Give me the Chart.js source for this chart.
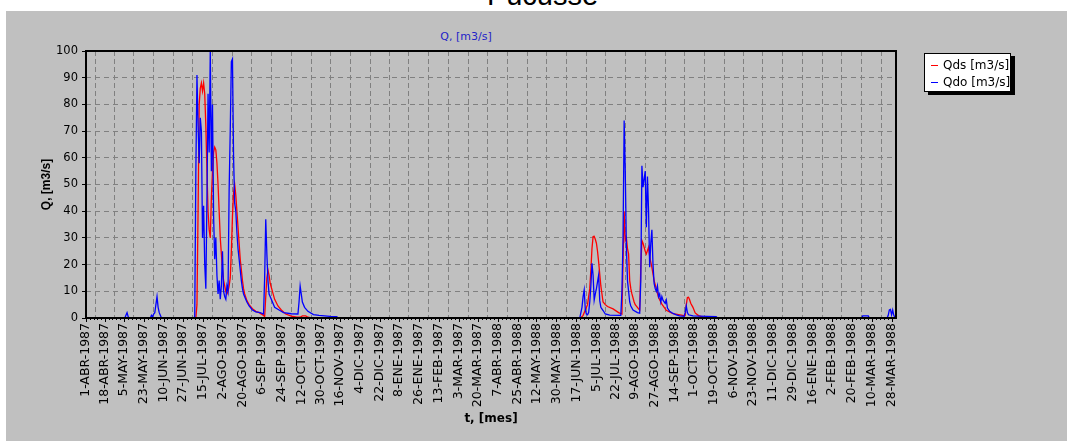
<!DOCTYPE html>
<html>
<head>
<meta charset="utf-8">
<title>Pucusse</title>
<script src="https://cdn.jsdelivr.net/npm/chart.js@4.4.1/dist/chart.umd.min.js"></script>
<style>
  html, body { margin: 0; padding: 0; background: #fff; }
  #wrap { position: relative; width: 1067px; height: 441px; overflow: hidden; }
  #panel { position: absolute; left: 6px; top: 11px; right: 0; bottom: 0; background: #c0c0c0; }
  #header { position: absolute; left: 0; top: -19px; width: 1085px; text-align: center;
            font: 29px/1 "Liberation Sans", Arial, sans-serif; color: #000; }
  #plotTitle { position: absolute; left: 366px; top: 30px; width: 200px; text-align: center;
               font: 11px/13px "DejaVu Sans", sans-serif; color: #2323c8; }
  #chart { position: absolute; left: 0; top: 0; }
  #legend { position: absolute; left: 924px; top: 53px; width: 87px; height: 39px; box-sizing: border-box;
            background: #fff; border: 1px solid #000; box-shadow: 4px 3px 0 #000; padding-top: 3px;
            font: 12px/17px "DejaVu Sans", sans-serif; color: #000; }
  #legend .row { position: relative; padding-left: 18px; white-space: nowrap; }
  #legend .mark { position: absolute; left: 6px; top: 8px; width: 7px; height: 1px; }
</style>
</head>
<body>
<div id="wrap">
  <div id="panel"></div>
  <div id="header">Pucusse</div>
  <div id="plotTitle">Q, [m3/s]</div>
  <canvas id="chart" width="1067" height="441"></canvas>
  <div id="legend"></div>
</div>
<script>
// axis labels (day offsets counted from 1-ABR)
const tickLabels = [
  "1-ABR-1987", "18-ABR-1987", "5-MAY-1987", "23-MAY-1987", "10-JUN-1987", "27-JUN-1987",
  "15-JUL-1987", "2-AGO-1987", "20-AGO-1987", "6-SEP-1987", "24-SEP-1987", "12-OCT-1987",
  "30-OCT-1987", "16-NOV-1987", "4-DIC-1987", "22-DIC-1987", "8-ENE-1987", "26-ENE-1987",
  "13-FEB-1987", "3-MAR-1987", "20-MAR-1987", "7-ABR-1988", "25-ABR-1988", "12-MAY-1988",
  "30-MAY-1988", "17-JUN-1988", "5-JUL-1988", "22-JUL-1988", "9-AGO-1988", "27-AGO-1988",
  "14-SEP-1988", "1-OCT-1988", "19-OCT-1988", "6-NOV-1988", "23-NOV-1988", "11-DIC-1988",
  "29-DIC-1988", "16-ENE-1988", "2-FEB-1988", "20-FEB-1988", "10-MAR-1988", "28-MAR-1988"
];
const tickDays = [
  0, 17, 34, 52, 70, 87, 105, 123, 141, 158, 176, 194, 212, 229, 247, 265, 282, 300, 318, 336, 353,
  371, 389, 406, 424, 442, 460, 477, 495, 513, 531, 548, 566, 584, 601, 619, 637, 655, 672, 690, 708, 726
];

const seriesNames = ["Qds [m3/s]", "Qdo [m3/s]"];
const seriesColors = ["#ff0000", "#0000ff"];

// Qds - simulated discharge
const qdsDays = [
  0, 99, 100, 101, 102, 103, 104, 105, 106, 107, 108, 109, 110, 111, 112, 113, 114, 115, 116, 117,
  118, 119, 120, 121, 122, 123, 124, 125, 126, 127, 128, 129, 130, 131, 132, 133, 134, 135, 136, 137,
  138, 139, 140, 141, 142, 143, 145, 147, 150, 153, 156, 160, 161, 162, 163, 164, 165, 166, 168, 170,
  173, 176, 180, 185, 190, 193, 195, 198, 200, 203,
  446, 448, 450, 452, 454, 455, 456, 457, 458, 459, 460, 461, 462, 463, 464, 465, 466, 468, 470, 475,
  480, 483, 484, 485, 486, 487, 488, 489, 490, 491, 492, 494, 495, 498, 499, 500, 501, 502, 504, 505,
  507, 508, 510, 512, 514, 516, 519, 523, 529, 539, 540, 541, 542, 543, 544, 545, 547, 549, 552, 556,
  560, 730
];
const qdsVals = [
  0, 0, 5, 40, 80, 86, 88, 85, 88, 84, 72, 55, 40, 33, 30, 45, 55, 62, 64, 63,
  58, 50, 40, 30, 24, 18, 14, 12, 10, 9, 10, 12, 15, 25, 38, 47, 50, 46, 40, 34,
  28, 22, 18, 14, 11, 9, 6.5, 5, 3.5, 2.5, 2, 1, 0.5, 8, 15, 18, 16, 13, 10, 7,
  4.5, 3, 1.5, 0.7, 0.3, 0.3, 0.8, 0.8, 0.3, 0,
  0, 1, 3, 5, 11, 18, 26, 30.5, 30.6, 29.5, 28, 25, 21, 16.5, 12, 9, 6, 5, 4.3, 3.4,
  2, 1.5, 21, 40, 29, 30, 26, 24, 14, 11, 9, 6, 5, 3.4, 3, 19, 29, 28, 25, 24,
  26.5, 23, 19, 14, 11, 7.7, 5.2, 2.9, 1.6, 0.9, 0.9, 5, 7.7, 7.8, 6.8, 5.5, 4, 1.9, 0.9, 0.3,
  0, 0
];

// Qdo - observed discharge
const qdoDays = [
  0, 35, 36, 37, 38, 39, 58, 59, 60, 61, 62, 63, 64, 65, 66, 67, 68,
  97, 98, 99, 100, 101, 102, 103, 104, 105, 106, 107, 108, 109, 110, 111, 112, 113, 114, 115, 116,
  117, 118, 119, 120, 121, 122, 123, 124, 125, 126, 127, 128, 129, 130, 131, 132, 133, 134, 135, 136,
  137, 138, 139, 140, 141, 142, 143, 145, 147, 150, 153, 157, 160, 161, 162, 163, 164, 165, 167, 170,
  174, 178, 185, 191, 192, 193, 194, 195, 197, 200, 205, 210, 220, 226, 227,
  445, 446, 447, 448, 449, 450, 451, 452, 453, 454, 455, 456, 457, 458, 459, 460, 461, 462, 463, 464,
  466, 468, 472, 481, 482, 483, 484, 485, 486, 487, 488, 489, 490, 491, 493, 497, 499, 500, 501, 502,
  503, 504, 505, 506, 507, 508, 509, 510, 511, 512, 513, 514, 515, 516, 517, 518, 519, 520, 522, 523,
  524, 526, 529, 532, 535, 539, 540, 541, 542, 543, 547, 553, 560, 568, 569,
  699, 700, 705, 706, 722, 723, 724, 725, 726, 727, 728, 729, 730
];
const qdoVals = [
  0, 0, 1, 2, 0.5, 0, 0, 1, 0.5, 1.5, 2, 5, 8, 4, 2, 1, 0,
  0, 0.5, 55, 91, 72, 58, 75, 70, 30, 42, 20, 11, 45, 84, 62, 100, 55, 80, 38, 22,
  30, 16, 9, 14, 7, 12, 25, 10, 8, 7, 12, 10, 48, 70, 96, 97, 60, 43, 40, 32,
  26, 22, 18, 14, 11, 9, 8, 6, 4.5, 3, 2.3, 2, 1.5, 15, 37, 24, 14, 9, 7, 4,
  3, 2, 1.6, 1.5, 6, 12, 9, 6, 4, 2.5, 1.3, 1, 0.6, 0.5, 0,
  0, 2, 4, 8, 10.5, 3, 1.5, 1.2, 2, 6, 12, 20.5, 16, 6.7, 9, 11, 13.5, 16, 6.5, 4,
  2.8, 1.5, 1.1, 1, 1, 10, 30, 74, 55, 27, 14, 10, 6, 4.5, 3, 2, 1.8, 14, 57, 49,
  52, 55, 34, 53, 40, 19, 28, 33, 20, 13, 11, 10, 12, 8, 9, 6, 8, 6.7, 5.5, 6.7,
  3.7, 2.5, 1.7, 1.2, 0.8, 0.6, 2, 4.5, 2, 1.2, 0.8, 0.7, 0.6, 0.5, 0,
  0, 0.8, 0.8, 0, 0, 1, 3, 3.2, 1.2, 3, 1, 0.3, 0
];

const toPoints = (days, vals) => days.map((d, i) => ({ x: d, y: vals[i] }));

// frame round the plot plus small ticks under the time axis
const framePlugin = {
  id: 'frame',
  afterDatasetsDraw(chart) {
    const { ctx, chartArea: a, scales: { x } } = chart;
    ctx.save();
    ctx.strokeStyle = '#000';
    ctx.lineWidth = 1;
    ctx.beginPath();
    tickDays.forEach((d, i) => {
      const px = Math.round(x.getPixelForValue(d)) + 0.5;
      ctx.moveTo(px, a.bottom);
      ctx.lineTo(px, a.bottom + 4);
      if (i < tickDays.length - 1) {
        const next = tickDays[i + 1];
        for (let k = 1; k < 5; k++) {
          const m = Math.round(x.getPixelForValue(d + (next - d) * k / 5)) + 0.5;
          ctx.moveTo(m, a.bottom);
          ctx.lineTo(m, a.bottom + 2);
        }
      }
    });
    ctx.stroke();
    ctx.lineWidth = 2;
    ctx.strokeRect(a.left, a.top, a.right - a.left, a.bottom - a.top);
    ctx.restore();
  }
};

new Chart(document.getElementById('chart'), {
  type: 'line',
  data: {
    datasets: [
      {
        label: seriesNames[0],
        data: toPoints(qdsDays, qdsVals),
        borderColor: seriesColors[0],
        borderWidth: 1.3,
        pointRadius: 0,
        tension: 0,
        order: 2
      },
      {
        label: seriesNames[1],
        data: toPoints(qdoDays, qdoVals),
        borderColor: seriesColors[1],
        borderWidth: 1.3,
        pointRadius: 0,
        tension: 0,
        order: 1
      }
    ]
  },
  options: {
    responsive: false,
    animation: false,
    devicePixelRatio: 1,
    layout: { padding: { top: 51, right: 171, bottom: 0, left: 0 } },
    plugins: {
      legend: { display: false },
      tooltip: { enabled: false }
    },
    scales: {
      x: {
        type: 'linear',
        min: 0,
        max: 730,
        afterBuildTicks: (scale) => { scale.ticks = tickDays.map(v => ({ value: v })); },
        afterFit: (scale) => { scale.height = 123; },
        grid: { offset: true, color: '#808080', lineWidth: 1, drawTicks: false },
        border: { display: false, dash: [5, 3] },
        ticks: {
          autoSkip: false,
          minRotation: 90,
          maxRotation: 90,
          padding: 5,
          color: '#000',
          font: { family: 'DejaVu Sans', size: 12.5 },
          callback: (v, i) => tickLabels[i]
        },
        title: {
          display: true,
          text: 't, [mes]',
          color: '#000',
          font: { family: 'DejaVu Sans', weight: 'bold', size: 12 },
          padding: { top: 0, bottom: 15 }
        }
      },
      y: {
        min: 0,
        max: 100,
        afterFit: (scale) => { scale.width = 86; },
        grid: { color: '#808080', lineWidth: 1, tickColor: '#000', tickLength: 4, tickBorderDash: [] },
        border: { display: false, dash: [5, 4] },
        ticks: {
          stepSize: 10,
          padding: 4,
          color: '#000',
          font: { family: 'DejaVu Sans', size: 11.5 }
        },
        title: {
          display: true,
          text: 'Q, [m3/s]',
          color: '#000',
          font: { family: 'Liberation Sans', weight: 'bold', size: 12 },
          padding: { top: 39, bottom: 0 }
        }
      }
    }
  },
  plugins: [framePlugin]
});

// legend box
const legend = document.getElementById('legend');
seriesNames.forEach((name, i) => {
  const row = document.createElement('div');
  row.className = 'row';
  row.innerHTML = '<span class="mark" style="background:' + seriesColors[i] + '"></span>' + name;
  legend.appendChild(row);
});
</script>
</body>
</html>
